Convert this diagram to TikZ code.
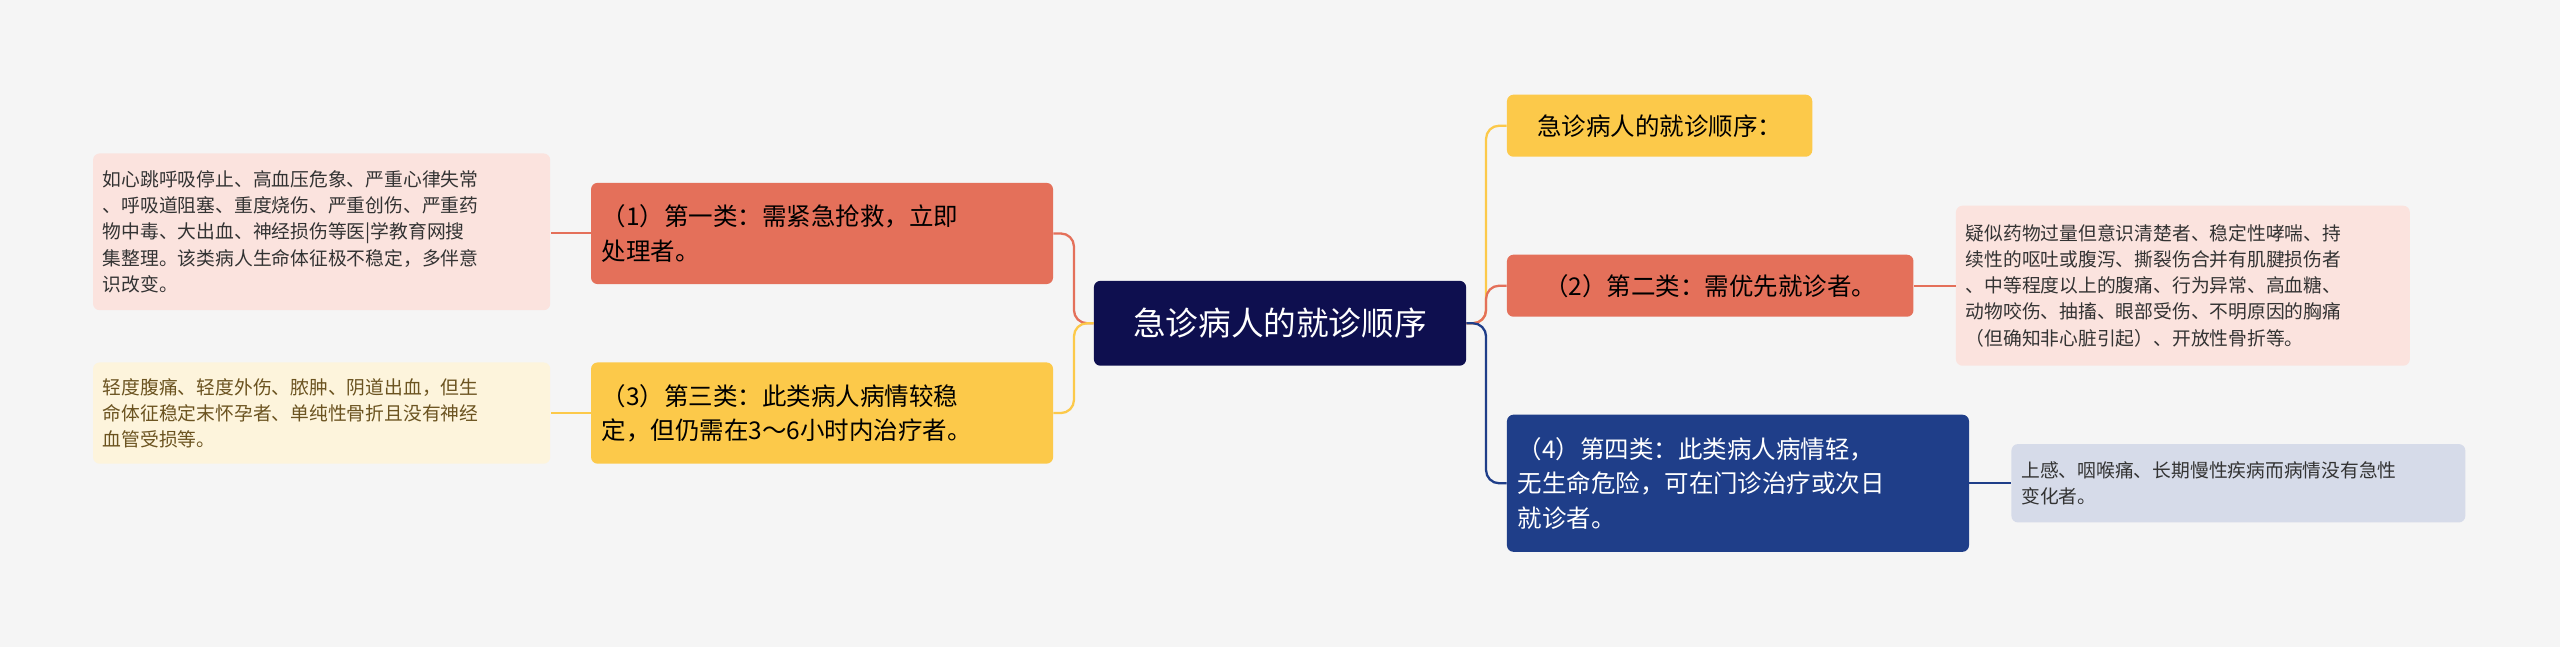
\documentclass[tikz,border=0pt]{standalone}
\usepackage{fontspec}
\setmainfont{Noto Sans CJK SC}
\begin{document}
\begin{tikzpicture}[x=1pt,y=-1pt,
  box/.style={rounded corners=4pt,inner sep=0pt,align=left},
  mainf/.style={font=\fontsize{15}{21}\selectfont},
  leaff/.style={font=\fontsize{11.5}{16}\selectfont},
  con/.style={line width=1.4pt,rounded corners=8pt}]
\definecolor{bg}{HTML}{F5F5F5}
\definecolor{navy}{HTML}{0E0F4F}
\definecolor{yel}{HTML}{FCC94A}
\definecolor{red}{HTML}{E4705A}
\definecolor{blu}{HTML}{1F3E89}
\definecolor{redl}{HTML}{FBE3DE}
\definecolor{yell}{HTML}{FDF4DC}
\definecolor{blul}{HTML}{D6DBE9}
\definecolor{brn}{HTML}{6B5320}
\fill[bg] (0,0) rectangle (1568,396);
\useasboundingbox (0,0) rectangle (1568,396);
% center
\node[box,fill=navy,text=white,minimum width=228pt,minimum height=52pt,align=center,font=\fontsize{20}{24}\selectfont] (c) at (784,198) {急诊病人的就诊顺序};
% right
\node[box,fill=yel,mainf,minimum width=187pt,minimum height=38pt,align=center] (r1) at (1016.5,77) {急诊病人的就诊顺序：};
\node[box,fill=red,mainf,minimum width=249pt,minimum height=38pt,align=center] (r2) at (1047.5,175) {（2）第二类：需优先就诊者。};
\node[box,fill=blu,text=white,mainf,minimum width=283pt,minimum height=84pt,text width=270pt] (r4) at (1064.5,296) {（4）第四类：此类病人病情轻，\\无生命危险，可在门诊治疗或次日\\就诊者。};
\node[box,fill=redl,leaff,text=black!80,minimum width=278pt,minimum height=98pt,text width=266pt] (l2) at (1337,175) {疑似药物过量但意识清楚者、稳定性哮喘、持\\续性的呕吐或腹泻、撕裂伤合并有肌腱损伤者\\、中等程度以上的腹痛、行为异常、高血糖、\\动物咬伤、抽搐、眼部受伤、不明原因的胸痛\\（但确知非心脏引起）、开放性骨折等。};
\node[box,fill=blul,leaff,text=black!80,minimum width=278pt,minimum height=48pt,text width=266pt] (l4) at (1371,296) {上感、咽喉痛、长期慢性疾病而病情没有急性\\变化者。};
% left
\node[box,fill=red,mainf,minimum width=283pt,minimum height=62pt,text width=270pt] (q1) at (503.5,143) {（1）第一类：需紧急抢救，立即\\处理者。};
\node[box,fill=yel,mainf,minimum width=283pt,minimum height=62pt,text width=270pt] (q3) at (503.5,253) {（3）第三类：此类病人病情较稳\\定，但仍需在3～6小时内治疗者。};
\node[box,fill=redl,leaff,text=black!80,minimum width=280pt,minimum height=96pt,text width=268pt] (k1) at (197,142) {如心跳呼吸停止、高血压危象、严重心律失常\\、呼吸道阻塞、重度烧伤、严重创伤、严重药\\物中毒、大出血、神经损伤等医|学教育网搜\\集整理。该类病人生命体征极不稳定，多伴意\\识改变。};
\node[box,fill=yell,leaff,text=brn,minimum width=280pt,minimum height=62pt,text width=268pt] (k3) at (197,253) {轻度腹痛、轻度外伤、脓肿、阴道出血，但生\\命体征稳定末怀孕者、单纯性骨折且没有神经\\血管受损等。};
% connectors
\draw[con,yel] (c.east) -- ++(12,0) |- (r1.west);
\draw[con,red] (c.east) -- ++(12,0) |- (r2.west);
\draw[con,blu] (c.east) -- ++(12,0) |- (r4.west);
\draw[con,red] (c.west) -- ++(-12,0) |- (q1.east);
\draw[con,yel] (c.west) -- ++(-12,0) |- (q3.east);
\draw[line width=1.2pt,red] (r2.east) -- (l2.west);
\draw[line width=1.2pt,blu] (r4.east) -- (l4.west);
\draw[line width=1.2pt,red] (q1.west) -- (k1.east|-q1.west);
\draw[line width=1.2pt,yel] (q3.west) -- (k3.east);
\end{tikzpicture}
\end{document}
